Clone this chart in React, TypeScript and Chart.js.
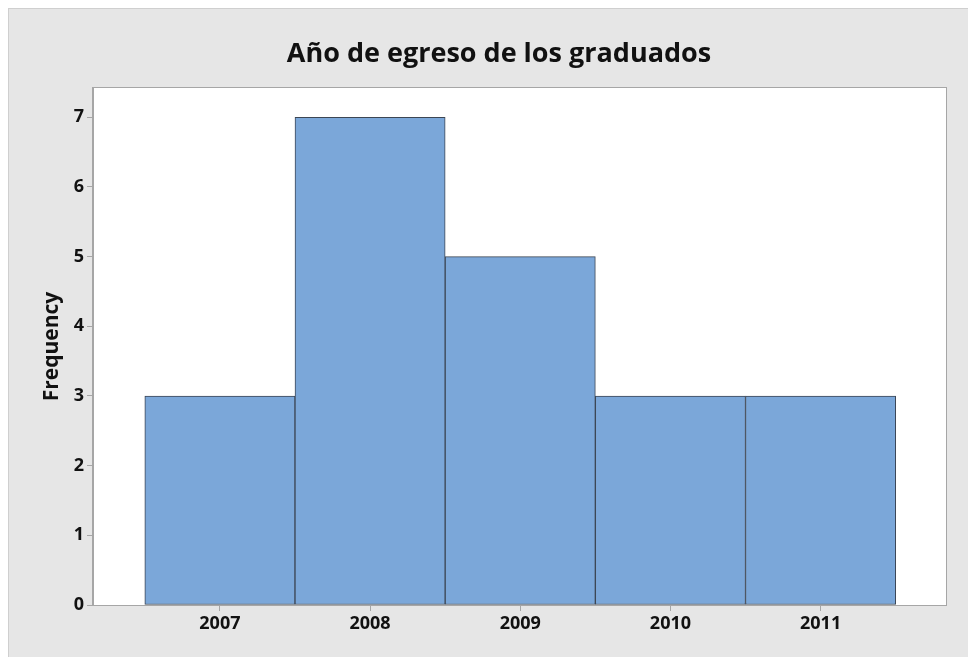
import React, { useEffect, useRef } from "react";
import { Chart, registerables } from "chart.js";

Chart.register(...registerables);

const TITLE = "Año de egreso de los graduados";
const Y_TITLE = "Frequency";
const YEARS = [2007, 2008, 2009, 2010, 2011];
const COUNTS = [3, 7, 5, 3, 3];
const Y_TICKS = [0, 1, 2, 3, 4, 5, 6, 7];

const FONT = "'Open Sans', 'Noto Sans', sans-serif";

const plotFrame = {
  id: "plotFrame",
  beforeDraw(chart: any) {
    const { ctx, chartArea } = chart;
    ctx.save();
    ctx.fillStyle = "#ffffff";
    ctx.fillRect(chartArea.left, chartArea.top, chartArea.right - chartArea.left, chartArea.bottom - chartArea.top);
    ctx.restore();
  },
  afterDraw(chart: any) {
    const { ctx, chartArea } = chart;
    ctx.save();
    ctx.strokeStyle = "#a6a6a6";
    ctx.lineWidth = 1;
    ctx.strokeRect(
      Math.round(chartArea.left) - 0.5,
      Math.round(chartArea.top) - 0.5,
      Math.round(chartArea.right - chartArea.left) + 1,
      Math.round(chartArea.bottom - chartArea.top) + 1
    );
    // title, centred over the panel like the reference
    ctx.fillStyle = "#111111";
    ctx.font = `bold 27px ${FONT}`;
    ctx.textAlign = "center";
    ctx.textBaseline = "alphabetic";
    ctx.fillText(TITLE, 490, 53);
    ctx.restore();
  },
};

export default function App() {
  const ref = useRef<HTMLCanvasElement>(null);

  useEffect(() => {
    if (!ref.current) return;
    const chart = new Chart(ref.current, {
      type: "bar",
      data: {
        datasets: [
          {
            data: YEARS.map((y, i) => ({ x: y, y: COUNTS[i] })),
            backgroundColor: "#7ba7d9",
            borderColor: "#3c4654",
            borderWidth: 1,
            borderSkipped: false,
            barPercentage: 1,
            categoryPercentage: 1,
          },
        ],
      },
      options: {
        responsive: false,
        animation: false,
        layout: { padding: { left: 0, right: 30, top: 79, bottom: 0 } },
        plugins: {
          legend: { display: false },
          tooltip: { enabled: false },
          title: { display: false },
        },
        scales: {
          x: {
            type: "linear",
            offset: false,
            min: 2006.155,
            max: 2011.835,
            afterBuildTicks: (scale: any) => {
              scale.ticks = YEARS.map((v) => ({ value: v }));
            },
            afterFit: (scale: any) => {
              scale.height = 52;
            },
            ticks: {
              color: "#111111",
              font: { family: FONT, size: 18, weight: "bold" },
              padding: 2,
              maxRotation: 0,
              callback: (v: any) => String(v),
            },
            grid: {
              offset: false,
              drawOnChartArea: false,
              drawTicks: true,
              tickLength: 6,
              color: "#a6a6a6",
            },
            border: { display: true, color: "#a6a6a6" },
          },
          y: {
            type: "linear",
            min: 0,
            max: 7.42,
            afterBuildTicks: (scale: any) => {
              scale.ticks = Y_TICKS.map((v) => ({ value: v }));
            },
            afterFit: (scale: any) => {
              scale.width = 84;
            },
            ticks: {
              color: "#111111",
              font: { family: FONT, size: 18, weight: "bold" },
              padding: 3,
            },
            grid: {
              drawOnChartArea: false,
              drawTicks: true,
              tickLength: 6,
              color: "#a6a6a6",
            },
            border: { display: true, color: "#a6a6a6" },
            title: {
              display: true,
              text: Y_TITLE,
              color: "#111111",
              font: { family: FONT, size: 21, weight: "bold" },
              padding: { top: 30, bottom: 0 },
            },
          },
        },
      },
      plugins: [plotFrame],
    });
    return () => chart.destroy();
  }, []);

  return (
    <div
      style={{
        width: 968,
        height: 649,
        boxSizing: "border-box",
        background: "#e6e6e6",
        borderLeft: "1px solid #cfcfcf",
        borderTop: "1px solid #cfcfcf",
        overflow: "hidden",
      }}
    >
      <canvas ref={ref} width={967} height={648} style={{ display: "block", width: 967, height: 648 }} />
    </div>
  );
}
